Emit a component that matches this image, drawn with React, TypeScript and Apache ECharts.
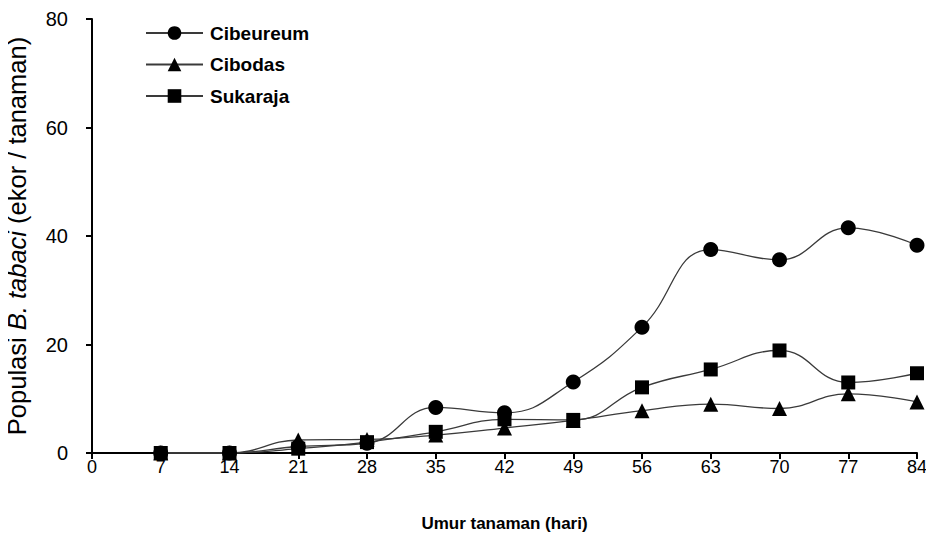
import React, { useEffect, useRef } from "react";
import * as echarts from "echarts";

const days = [7, 14, 21, 28, 35, 42, 49, 56, 63, 70, 77, 84];
const cibeureum = [0, 0, 1.2, 1.8, 8.4, 7.4, 13.1, 23.2, 37.5, 35.6, 41.5, 38.3];
const cibodas = [0, 0, 2.4, 2.5, 3.3, 4.6, 6.0, 7.8, 9.0, 8.2, 10.9, 9.4];
const sukaraja = [0, 0, 0.8, 2.0, 3.9, 6.2, 6.1, 12.1, 15.4, 18.9, 13.0, 14.7];
const seriesNames = ["Cibeureum", "Cibodas", "Sukaraja"];
const xTitle = "Umur tanaman (hari)";

const FONT = "'Liberation Sans', Arial, sans-serif";

export default function App() {
  const ref = useRef<HTMLDivElement>(null);
  useEffect(() => {
    if (!ref.current) return;
    const chart = echarts.init(ref.current, null, { renderer: "svg" });
    const pair = (vals: number[]) => days.map((d, i) => [d, vals[i]]);
    const mk = (name: string, vals: number[], symbol: string, size: number) => ({
      name,
      type: "line",
      data: pair(vals),
      smooth: 0.45,
      symbol,
      symbolSize: size,
      showSymbol: true,
      lineStyle: { color: "#3a3a3a", width: 1.3 },
      itemStyle: { color: "#000", borderWidth: 0 },
    });
    chart.setOption({
      animation: false,
      backgroundColor: "#fff",
      textStyle: { fontFamily: FONT },
      grid: { left: 92, right: 17, top: 19, bottom: 88, containLabel: false, outerBoundsMode: "none" },
      legend: {
        orient: "vertical",
        left: 145,
        top: 23.5,
        padding: 0,
        itemWidth: 57,
        itemHeight: 17,
        itemGap: 12.5,
        data: seriesNames,
        textStyle: { fontFamily: FONT, fontWeight: "bold", fontSize: 19, color: "#000", padding: [0, 0, 0, 2] },
      },
      xAxis: {
        type: "value",
        min: 0,
        max: 84,
        interval: 7,
        name: xTitle,
        nameLocation: "middle",
        nameGap: 62,
        nameTextStyle: { fontFamily: FONT, fontWeight: "bold", fontSize: 17, color: "#000" },
        splitLine: { show: false },
        axisLine: { onZero: false, lineStyle: { color: "#000", width: 2 } },
        axisTick: { show: true, length: 6, lineStyle: { color: "#000", width: 2 } },
        axisLabel: { margin: 5, fontFamily: FONT, fontSize: 18, color: "#000" },
      },
      yAxis: {
        type: "value",
        min: 0,
        max: 80,
        interval: 20,
        name: "{n|Populasi }{i|B. tabaci}{n| (ekor / tanaman)}",
        nameLocation: "middle",
        nameGap: 62,
        nameTextStyle: {
          color: "#000",
          rich: {
            n: { fontFamily: FONT, fontSize: 25.5, color: "#000" },
            i: { fontFamily: FONT, fontStyle: "italic", fontSize: 25.5, color: "#000" },
          },
        },
        splitLine: { show: false },
        axisLine: { lineStyle: { color: "#000", width: 2 } },
        axisTick: { show: true, length: 6, lineStyle: { color: "#000", width: 2 } },
        axisLabel: { margin: 24, fontFamily: FONT, fontSize: 20, color: "#000" },
      },
      series: [
        mk(seriesNames[0], cibeureum, "circle", 15),
        mk(seriesNames[1], cibodas, "triangle", 15),
        mk(seriesNames[2], sukaraja, "rect", 14),
      ],
    });
    return () => chart.dispose();
  }, []);
  return <div ref={ref} style={{ width: 934, height: 541, margin: -8 }} />;
}
